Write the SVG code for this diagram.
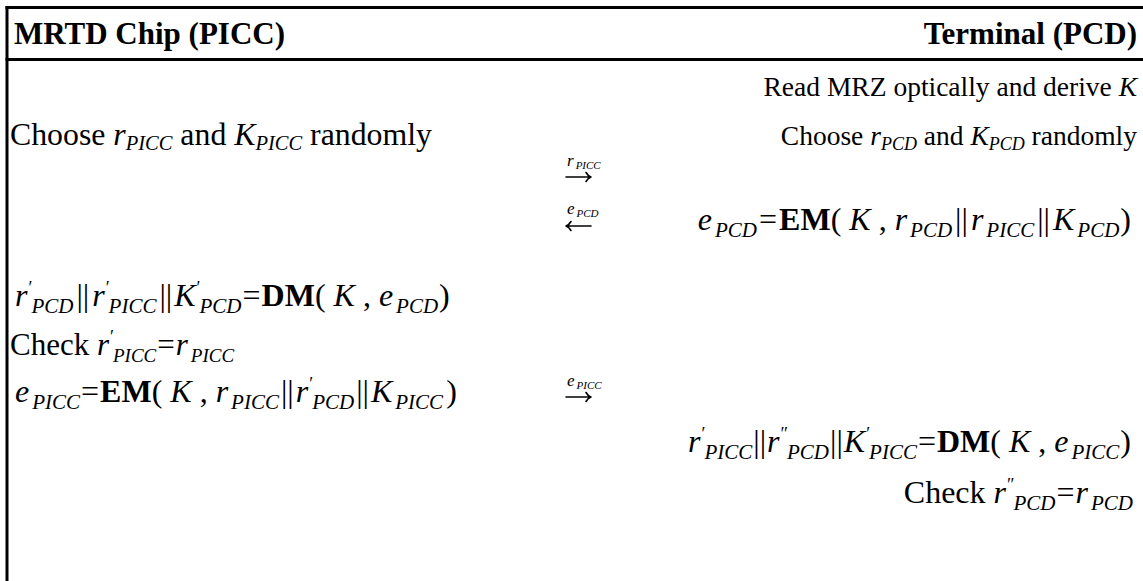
<svg xmlns="http://www.w3.org/2000/svg" width="1143" height="581" viewBox="0 0 1143 581">
<style>
.t{font-family:"Liberation Serif","Times New Roman",serif;font-size:28px;fill:#000}
.h{font-weight:bold;font-size:31px}
.m{font-size:32px}
.k{font-size:31px}
.c{font-size:31.8px}
.r{font-size:27.5px}
.i{font-style:italic}
.s{font-style:italic;font-size:21px}
.sk{font-style:italic;font-size:19px}
.ss{font-style:italic;font-size:18px}
.sl{font-style:italic;font-size:20.5px}
.b{font-weight:bold}
.p{font-size:18px}
.al{font-size:17px;font-style:italic}
.als{font-size:11px;font-style:italic}
.frame{stroke:#000;stroke-width:3;fill:none}
.arr{stroke:#000;stroke-width:1.6;fill:none;stroke-linecap:round;stroke-linejoin:round}
</style>
<rect width="1143" height="581" fill="#fff"/>
<g id="table">
<line class="frame" x1="5.5" y1="7.5" x2="1143" y2="7.5"/>
<line class="frame" x1="5.5" y1="59.5" x2="1143" y2="59.5"/>
<line class="frame" x1="7" y1="6" x2="7" y2="581"/>
</g>
<g id="header-picc"><text class="t h" x="14" y="44">MRTD Chip (PICC)</text></g>
<g id="header-pcd"><text class="t h" x="1137" y="44" text-anchor="end">Terminal (PCD)</text></g>
<g id="pcd-read"><text class="t r" x="1137" y="96" text-anchor="end">Read MRZ optically and derive <tspan class="i">K</tspan></text></g>
<g id="picc-choose"><text class="t c" x="10" y="145">Choose <tspan class="i">r</tspan><tspan class="sl" dy="5">PICC</tspan><tspan dy="-5"> and </tspan><tspan class="i">K</tspan><tspan class="sl" dy="5">PICC</tspan><tspan dy="-5"> randomly</tspan></text></g>
<g id="pcd-choose"><text class="t r" x="1137" y="145" text-anchor="end">Choose <tspan class="i">r</tspan><tspan class="ss" dy="5">PCD</tspan><tspan dy="-5"> and </tspan><tspan class="i">K</tspan><tspan class="ss" dy="5">PCD</tspan><tspan dy="-5"> randomly</tspan></text></g>
<g id="pcd-encrypt"><text class="t m" x="1131" y="230" text-anchor="end"><tspan class="i">e</tspan><tspan class="s" dx="3" dy="7">PCD</tspan><tspan dx="2" dy="-7">=</tspan><tspan class="b" dx="2">EM</tspan>( <tspan class="i">K</tspan> , <tspan class="i">r</tspan><tspan class="s" dx="3" dy="7">PCD</tspan><tspan dx="3" dy="-7">||</tspan><tspan class="i" dx="3">r</tspan><tspan class="s" dx="3" dy="7">PICC</tspan><tspan dx="3" dy="-7">||</tspan><tspan class="i" dx="3">K</tspan><tspan class="s" dx="3" dy="7">PCD</tspan><tspan dx="1" dy="-7">)</tspan></text></g>
<g id="picc-decrypt"><text class="t m" x="15" y="306"><tspan class="i">r</tspan><tspan class="p" dx="1" dy="-12">′</tspan><tspan class="s" dx="-1" dy="19">PCD</tspan><tspan dx="3" dy="-7">||</tspan><tspan class="i" dx="3">r</tspan><tspan class="p" dx="1" dy="-12">′</tspan><tspan class="s" dx="-1" dy="19">PICC</tspan><tspan dx="3" dy="-7">||</tspan><tspan class="i" dx="2">K</tspan><tspan class="p" dx="1" dy="-12">′</tspan><tspan class="s" dx="-1" dy="19">PCD</tspan><tspan dx="1" dy="-7">=</tspan><tspan class="b" dx="1">DM</tspan>( <tspan class="i">K</tspan> , <tspan class="i">e</tspan><tspan class="s" dx="3" dy="7">PCD</tspan><tspan dx="1" dy="-7">)</tspan></text></g>
<g id="picc-check"><text class="t k" x="10" y="355">Check <tspan class="i">r</tspan><tspan class="p" dx="1" dy="-12">′</tspan><tspan class="sk" dx="-1" dy="19">PICC</tspan><tspan dx="1" dy="-7">=</tspan><tspan class="i" dx="1">r</tspan><tspan class="sk" dx="3" dy="7">PICC</tspan></text></g>
<g id="picc-encrypt"><text class="t m" x="15" y="402"><tspan class="i">e</tspan><tspan class="s" dx="3" dy="7">PICC</tspan><tspan dx="1" dy="-7">=</tspan><tspan class="b" dx="1">EM</tspan>( <tspan class="i">K</tspan> , <tspan class="i">r</tspan><tspan class="s" dx="3" dy="7">PICC</tspan><tspan dx="2" dy="-7">||</tspan><tspan class="i" dx="2">r</tspan><tspan class="p" dx="1" dy="-12">′</tspan><tspan class="s" dx="-1" dy="19">PCD</tspan><tspan dx="2" dy="-7">||</tspan><tspan class="i" dx="2">K</tspan><tspan class="s" dx="3" dy="7">PICC</tspan><tspan dx="3" dy="-7">)</tspan></text></g>
<g id="pcd-decrypt"><text class="t m" x="1131" y="452" text-anchor="end"><tspan class="i">r</tspan><tspan class="p" dx="1" dy="-12">′</tspan><tspan class="s" dx="-1" dy="19">PICC</tspan><tspan dx="1" dy="-7">||</tspan><tspan class="i" dx="1">r</tspan><tspan class="p" dx="1" dy="-12">″</tspan><tspan class="s" dx="-1" dy="19">PCD</tspan><tspan dx="1" dy="-7">||</tspan><tspan class="i" dx="1">K</tspan><tspan class="p" dx="1" dy="-12">′</tspan><tspan class="s" dx="-1" dy="19">PICC</tspan><tspan dx="1" dy="-7">=</tspan><tspan class="b" dx="1">DM</tspan>( <tspan class="i">K</tspan> , <tspan class="i">e</tspan><tspan class="s" dx="3" dy="7">PICC</tspan><tspan dx="1" dy="-7">)</tspan></text></g>
<g id="pcd-check"><text class="t m" x="1133" y="503" text-anchor="end">Check <tspan class="i">r</tspan><tspan class="p" dx="1" dy="-12">″</tspan><tspan class="s" dx="-1" dy="19">PCD</tspan><tspan dx="1" dy="-7">=</tspan><tspan class="i" dx="1">r</tspan><tspan class="s" dx="3" dy="7">PCD</tspan></text></g>
<g id="connectors">
<g id="msg-r-picc">
<text class="t al" x="567" y="166"><tspan>r</tspan><tspan class="als" dx="2" dy="3">PICC</tspan></text>
<path class="arr" d="M566 177 H591 M586 172.5 Q588 176 591 177 Q588 178 586 181.5"/>
</g>
<g id="msg-e-pcd">
<text class="t al" x="567" y="214"><tspan>e</tspan><tspan class="als" dx="2" dy="3">PCD</tspan></text>
<path class="arr" d="M591 226 H566 M571 221.5 Q569 225 566 226 Q569 227 571 230.5"/>
</g>
<g id="msg-e-picc">
<text class="t al" x="567" y="386"><tspan>e</tspan><tspan class="als" dx="2" dy="3">PICC</tspan></text>
<path class="arr" d="M566 397 H591 M586 392.5 Q588 396 591 397 Q588 398 586 401.5"/>
</g>
</g>
</svg>
